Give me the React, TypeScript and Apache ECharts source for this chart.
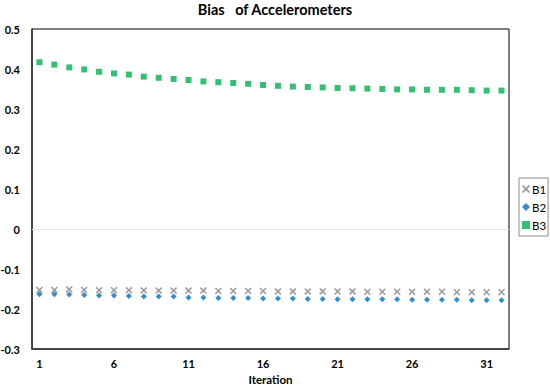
import React, { useEffect, useRef } from "react";
import * as echarts from "echarts";

const iterations: string[] = Array.from({ length: 32 }, (_, i) => String(i + 1));

const b1: number[] = [
  -0.1525, -0.1525, -0.151, -0.1525, -0.153, -0.153, -0.153, -0.1535, -0.154, -0.154,
  -0.154, -0.154, -0.155, -0.155, -0.155, -0.155, -0.156, -0.156, -0.156, -0.156,
  -0.156, -0.156, -0.157, -0.157, -0.157, -0.157, -0.157, -0.157, -0.158, -0.158,
  -0.158, -0.158,
];

const b2: number[] = [
  -0.163, -0.163, -0.164, -0.165, -0.1665, -0.1665, -0.1675, -0.169, -0.169, -0.169,
  -0.171, -0.171, -0.1725, -0.1725, -0.1725, -0.174, -0.174, -0.174, -0.175, -0.175,
  -0.1755, -0.1755, -0.1755, -0.1755, -0.1755, -0.177, -0.177, -0.177, -0.177, -0.178,
  -0.178, -0.178,
];

const b3: number[] = [
  0.417, 0.411, 0.404, 0.399, 0.393, 0.389, 0.386, 0.381, 0.378, 0.375,
  0.3725, 0.369, 0.367, 0.365, 0.363, 0.36, 0.358, 0.356, 0.355, 0.354,
  0.3525, 0.352, 0.351, 0.35, 0.349, 0.349, 0.348, 0.348, 0.348, 0.347,
  0.346, 0.346,
];

const FONT = "Lato";
const X_SYMBOL =
  "path://M0,1.5L1.5,0L5,3.5L8.5,0L10,1.5L6.5,5L10,8.5L8.5,10L5,6.5L1.5,10L0,8.5L3.5,5Z";

export default function App() {
  const ref = useRef<HTMLDivElement>(null);
  useEffect(() => {
    if (!ref.current) return;
    const chart = echarts.init(ref.current, undefined, { renderer: "svg" });
    chart.setOption({
      animation: false,
      backgroundColor: "#fff",
      title: {
        text: "Bias   of Accelerometers",
        left: "center",
        top: 2,
        padding: 0,
        textStyle: { fontFamily: FONT, fontSize: 14.5, fontWeight: "bold", color: "#000" },
      },
      legend: {
        orient: "vertical",
        left: 519,
        top: 178,
        padding: [5, 2, 5, 3],
        itemWidth: 8,
        itemHeight: 8,
        itemGap: 6,
        borderColor: "#8c8c8c",
        borderWidth: 1,
        textStyle: { fontFamily: FONT, fontSize: 11.5, color: "#000", padding: [0, 0, 0, -3] },
        data: ["B1", "B2", "B3"],
      },
      grid: {
        left: 32,
        right: 41,
        top: 29,
        bottom: 37,
        show: true,
        borderColor: "#000",
        borderWidth: 1,
        outerBoundsMode: "none",
        containLabel: false,
      },
      xAxis: {
        type: "category",
        data: iterations,
        boundaryGap: true,
        name: "Iteration",
        nameLocation: "middle",
        nameGap: 23,
        nameTextStyle: { fontFamily: FONT, fontSize: 11.5, fontWeight: "bold", color: "#000" },
        axisLine: { show: true, onZero: false, lineStyle: { color: "#333", width: 1.5 } },
        axisTick: { show: false },
        axisLabel: {
          interval: 4,
          margin: 9,
          fontFamily: FONT,
          fontSize: 11,
          fontWeight: "bold",
          color: "#000",
        },
        splitLine: { show: false },
      },
      yAxis: {
        type: "value",
        min: -0.3,
        max: 0.5,
        interval: 0.1,
        axisLine: { show: true, lineStyle: { color: "#333", width: 1.5 } },
        axisTick: { show: false },
        splitLine: { show: false },
        axisLabel: {
          margin: 12,
          fontFamily: FONT,
          fontSize: 11,
          fontWeight: "bold",
          color: "#000",
          formatter: (v: number) => String(Math.round(v * 10) / 10),
        },
      },
      series: [
        {
          name: "B1",
          type: "scatter",
          data: b1,
          symbol: X_SYMBOL,
          symbolSize: 7,
          itemStyle: { color: "#7f7f7f" },
          markLine: {
            silent: true,
            symbol: "none",
            label: { show: false },
            lineStyle: { color: "#e6e6e6", width: 1, type: "solid" },
            data: [{ yAxis: 0 }],
          },
        },
        {
          name: "B2",
          type: "scatter",
          data: b2,
          symbol: "diamond",
          symbolSize: 6,
          itemStyle: { color: "#0070c0" },
        },
        {
          name: "B3",
          type: "scatter",
          data: b3,
          symbol: "rect",
          symbolSize: 6,
          itemStyle: { color: "#00b050" },
        },
      ],
    });
    return () => chart.dispose();
  }, []);
  return <div ref={ref} style={{ width: 550, height: 386, position: "absolute", left: 0, top: 0 }} />;
}
